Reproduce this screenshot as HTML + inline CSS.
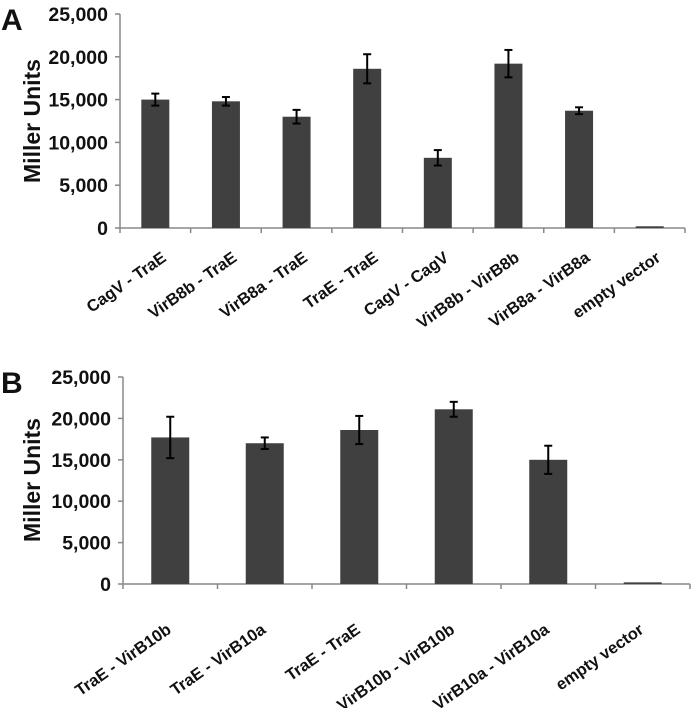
<!DOCTYPE html>
<html><head><meta charset="utf-8"><style>
body{margin:0;background:#fff;}
svg{display:block;font-family:"Liberation Sans",Arial,sans-serif;font-weight:bold;}
</style></head><body>
<svg id="s" width="693" height="708"></svg>
<script>
const catsA=["CagV - TraE","VirB8b - TraE","VirB8a - TraE","TraE - TraE","CagV - CagV","VirB8b -  VirB8b","VirB8a - VirB8a","empty vector"];
const valsA=[15000,14800,13000,18600,8200,19200,13700,200];
const errA=[700,500,800,1700,900,1600,400,0];
const catsB=["TraE  - VirB10b","TraE  - VirB10a","TraE - TraE","VirB10b - VirB10b","VirB10a  - VirB10a","empty vector"];
const valsB=[17700,17000,18600,21100,15000,200];
const errB=[2500,700,1700,900,1700,0];
const ticks=[0,5000,10000,15000,20000,25000];
const tickLabels=["0","5,000","10,000","15,000","20,000","25,000"];
const NS="http://www.w3.org/2000/svg";
const svg=document.getElementById('s');
function el(t,a,p){const e=document.createElementNS(NS,t);for(const k in a)e.setAttribute(k,a[k]);(p||svg).appendChild(e);return e;}
function chart(name,letter,cats,vals,errs,x0,x1,yTop,y0,barW,letterY,titleY,lx,ly){
  const g=el('g',{});
  
  
  const ys=v=>y0-(v/25000)*(y0-yTop);
  const cw=(x1-x0)/cats.length;
  const L=el('text',{x:1,y:letterY,'font-size':30,fill:'#111'},g);L.textContent=letter;
  
  el('line',{x1:x0,y1:yTop,x2:x0,y2:y0,stroke:'#888','stroke-width':1.5},g);
  el('line',{x1:x0,y1:y0,x2:x1,y2:y0,stroke:'#888','stroke-width':1.5},g);
  ticks.forEach((t,i)=>{
    el('line',{x1:x0-5,y1:ys(t),x2:x0,y2:ys(t),stroke:'#888','stroke-width':1.5},g);
    const tx=el('text',{x:x0-12,y:ys(t)+7,'text-anchor':'end','font-size':19.5,fill:'#111'},g);
    tx.textContent=tickLabels[i];
    
  });
  for(let i=0;i<=cats.length;i++)el('line',{x1:x0+i*cw,y1:y0,x2:x0+i*cw,y2:y0+5,stroke:'#888','stroke-width':1.5},g);
  const yt=el('text',{x:0,y:0,'text-anchor':'middle','font-size':23,fill:'#111',transform:`translate(40,${titleY}) rotate(-90)`},g);
  yt.textContent='Miller Units';
  
  cats.forEach((c,i)=>{
    const cx=x0+(i+0.5)*cw;
    const r=el('rect',{x:cx-barW/2,y:ys(vals[i]),width:barW,height:y0-ys(vals[i]),fill:'#404040'},g);
    
    if(errs[i]>0){
      const a=ys(vals[i]+errs[i]),b=ys(vals[i]-errs[i]);
      el('line',{x1:cx,y1:a,x2:cx,y2:b,stroke:'#000','stroke-width':2},g);
      el('line',{x1:cx-4,y1:a,x2:cx+4,y2:a,stroke:'#000','stroke-width':2},g);
      el('line',{x1:cx-4,y1:b,x2:cx+4,y2:b,stroke:'#000','stroke-width':2},g);
    }
    const t=el('text',{x:0,y:0,'text-anchor':'end','font-size':16.5,fill:'#111',transform:`translate(${cx+lx},${y0+ly}) rotate(-35)`},g);
    t.textContent=c;
    
  });
}
chart('chart-a','A',catsA,valsA,errA,120,685,14,228,28,30,121,12,32);
chart('chart-b','B',catsB,valsB,errB,123,690,377,584,38,393,480,2,48);
</script>
</body></html>
